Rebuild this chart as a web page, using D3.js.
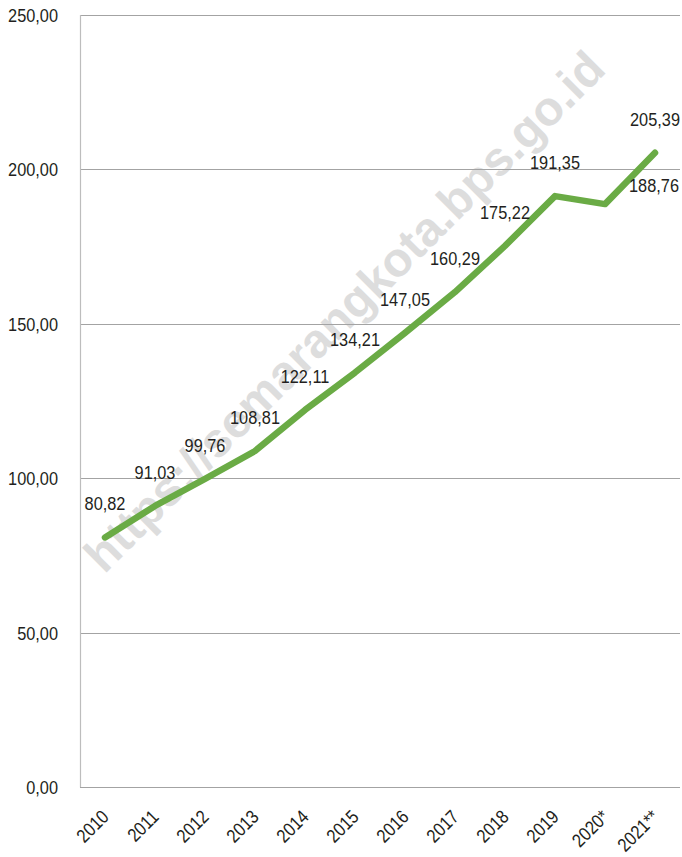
<!DOCTYPE html>
<html>
<head>
<meta charset="utf-8">
<script src="https://cdn.jsdelivr.net/npm/d3@7"></script>
<style>
  html, body { margin: 0; padding: 0; background: #ffffff; }
  svg { display: block; }
  .lbl { font-family: "Liberation Sans", Arial, sans-serif; font-size: 19px; fill: #231f20; }
</style>
</head>
<body>
<svg id="chart" width="682" height="857"></svg>
<script>
// Years and index values
const years = ["2010", "2011", "2012", "2013", "2014", "2015", "2016", "2017", "2018", "2019", "2020*", "2021**"];
const values = [80.82, 91.03, 99.76, 108.81, 122.11, 134.21, 147.05, 160.29, 175.22, 191.35, 188.76, 205.39];
const yTicks = [0, 50, 100, 150, 200, 250];

// Label placement tweaks (dx, dy in px) so labels don't collide with the line
const labelShift = [[0, 0], [0, 0], [0, 0], [0, 0], [0, 0], [0, 0], [0, 0], [0, 0], [0, 0], [0, 0], [49, 15], [0, 0]];

const fmt = v => d3.format(".2f")(v).replace(".", ",");

// Condensed look: squeeze glyphs horizontally
const squeeze = "scale(0.86,1)";

const svg = d3.select("#chart");
const plotLeft = 80, plotRight = 680, plotTop = 15, plotBottom = 787;

const x = d3.scalePoint().domain(years).range([plotLeft, plotRight]).padding(0.5);
const y = d3.scaleLinear().domain([0, 250]).range([plotBottom, plotTop]);

// Watermark
svg.append("text")
  .attr("transform", "translate(356,323) rotate(-45)")
  .attr("text-anchor", "middle")
  .style("font-family", "'Liberation Sans', Arial, sans-serif")
  .style("font-weight", "bold")
  .style("font-size", "48px")
  .style("fill", "#dddddd")
  .text("https://semarangkota.bps.go.id");

// Horizontal gridlines
svg.append("g")
  .selectAll("line")
  .data(yTicks.filter(t => t > 0))
  .join("line")
  .attr("x1", plotLeft).attr("x2", plotRight)
  .attr("y1", d => Math.round(y(d)) + 0.5).attr("y2", d => Math.round(y(d)) + 0.5)
  .attr("stroke", "#a3a3a3").attr("stroke-width", 1);

// Axis lines
svg.append("line")
  .attr("x1", plotLeft + 0.5).attr("x2", plotLeft + 0.5)
  .attr("y1", plotTop).attr("y2", plotBottom + 0.5)
  .attr("stroke", "#bdbdbd").attr("stroke-width", 1.2);
svg.append("line")
  .attr("x1", plotLeft).attr("x2", plotRight)
  .attr("y1", plotBottom + 0.5).attr("y2", plotBottom + 0.5)
  .attr("stroke", "#a3a3a3").attr("stroke-width", 1);

// Y tick labels
svg.append("g")
  .selectAll("text")
  .data(yTicks)
  .join("text")
  .attr("class", "lbl")
  .attr("text-anchor", "end")
  .attr("transform", d => `translate(58,${y(d) + 7}) ${squeeze}`)
  .text(d => fmt(d));

// X tick labels (rotated)
svg.append("g")
  .selectAll("text")
  .data(years)
  .join("text")
  .attr("class", "lbl")
  .attr("text-anchor", "end")
  .attr("transform", d => `translate(${x(d) + 5},818) rotate(-45) ${squeeze}`)
  .text(d => d);

// Line
const line = d3.line()
  .x((d, i) => x(years[i]))
  .y(d => y(d));

svg.append("path")
  .datum(values)
  .attr("d", line)
  .attr("fill", "none")
  .attr("stroke", "#6aab45")
  .attr("stroke-width", 6.5)
  .attr("stroke-linecap", "round")
  .attr("stroke-linejoin", "round");

// Data labels
svg.append("g")
  .selectAll("text")
  .data(values)
  .join("text")
  .attr("class", "lbl")
  .attr("text-anchor", "middle")
  .attr("transform", (d, i) =>
    `translate(${x(years[i]) + labelShift[i][0]},${y(d) - 27 + labelShift[i][1]}) ${squeeze}`)
  .text(d => fmt(d));
</script>
</body>
</html>
